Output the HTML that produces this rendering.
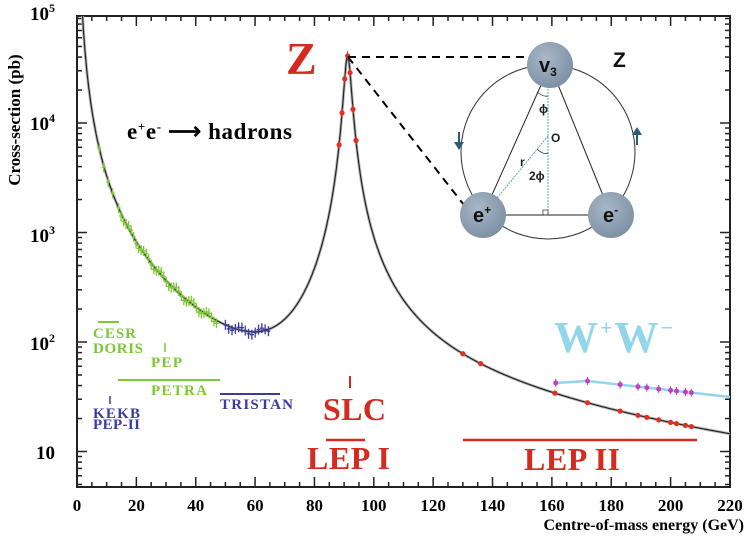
<!DOCTYPE html>
<html><head><meta charset="utf-8"><style>
body{margin:0;background:#fff}
svg{display:block}
.s{font-family:"Liberation Serif",serif;font-weight:bold}
</style></head><body>
<svg id="c" width="747" height="548" xmlns="http://www.w3.org/2000/svg">
<defs><radialGradient id="g" cx="40%" cy="35%" r="70%"><stop offset="0" stop-color="#a9b8c8"/><stop offset="1" stop-color="#7a8ea3"/></radialGradient>
<clipPath id="cp"><rect x="77" y="16" width="653" height="471"/></clipPath></defs>
<g id="ax"></g>
<g clip-path="url(#cp)" id="cv"></g>
<text x="20" y="120" class="s" font-size="17" text-anchor="middle" transform="rotate(-90 20 120)">Cross-section (pb)</text>
<text x="744" y="530" class="s" font-size="16" text-anchor="end">Centre-of-mass energy (GeV)</text>
<g class="s" font-size="19">
<text x="30" y="20">10<tspan dy="-8" font-size="12">5</tspan></text>
<text x="30" y="130">10<tspan dy="-8" font-size="12">4</tspan></text>
<text x="30" y="242">10<tspan dy="-8" font-size="12">3</tspan></text>
<text x="30" y="350">10<tspan dy="-8" font-size="12">2</tspan></text>
<text x="36" y="459">10</text>
</g>
<text x="286" y="74" class="s" font-size="46" fill="#d42a20">Z</text>
<text x="127" y="139" class="s" font-size="23" textLength="165">e<tspan dy="-8" font-size="13">+</tspan><tspan dy="8">e</tspan><tspan dy="-8" font-size="13">-</tspan><tspan dy="8"> ⟶ hadrons</tspan></text>
<g class="s" fill="#7cc832" font-size="15">
<line x1="98" y1="322" x2="119" y2="322" stroke="#7cc832" stroke-width="2"/>
<text x="93" y="338" textLength="43">CESR</text><text x="93" y="353" textLength="50">DORIS</text>
<line x1="165" y1="343" x2="165" y2="352" stroke="#7cc832" stroke-width="1.5"/>
<text x="151" y="367" textLength="31">PEP</text>
<line x1="118" y1="380" x2="220" y2="380" stroke="#7cc832" stroke-width="2"/>
<text x="151" y="395" textLength="56">PETRA</text></g>
<g class="s" fill="#3a3aa0" font-size="15">
<line x1="110" y1="396" x2="110" y2="404" stroke="#3a3aa0" stroke-width="1.5"/>
<text x="93" y="418" textLength="47">KEKB</text><text x="93" y="429" textLength="47">PEP-II</text>
<line x1="220" y1="394" x2="280" y2="394" stroke="#3a3aa0" stroke-width="2"/>
<text x="220" y="409" textLength="73">TRISTAN</text></g>
<g class="s" fill="#d42a20">
<line x1="350" y1="376" x2="350" y2="388" stroke="#d42a20" stroke-width="2"/>
<text x="323" y="420" font-size="32" textLength="63">SLC</text>
<line x1="326" y1="440" x2="365" y2="440" stroke="#d42a20" stroke-width="2.5"/>
<text x="307" y="469" font-size="32" textLength="83">LEP I</text>
<line x1="463" y1="440" x2="697" y2="440" stroke="#d42a20" stroke-width="2.5"/>
<text x="524" y="470" font-size="32" textLength="96">LEP II</text></g>
<text x="554" y="352" class="s" font-size="44" fill="#92d6ea" textLength="119">W<tspan dy="-17" font-size="22">+</tspan><tspan dy="17">W</tspan><tspan dy="-17" font-size="22">−</tspan></text>
<g id="diag">
<line x1="348" y1="57" x2="527" y2="57" stroke="#000" stroke-width="2" stroke-dasharray="8,6"/>
<line x1="348" y1="57" x2="464" y2="205" stroke="#000" stroke-width="2" stroke-dasharray="8,6"/>
<circle cx="548" cy="152" r="87" fill="none" stroke="#333" stroke-width="1"/>
<line x1="550" y1="65" x2="483" y2="215" stroke="#222"/>
<line x1="550" y1="65" x2="611" y2="215" stroke="#222"/>
<line x1="483" y1="215" x2="611" y2="215" stroke="#222"/>
<line x1="548" y1="65" x2="548" y2="215" stroke="#5aa" stroke-dasharray="2,1"/>
<line x1="548" y1="136" x2="483" y2="215" stroke="#5aa" stroke-dasharray="2,1"/>
<rect x="543" y="210" width="5" height="5" fill="none" stroke="#333" stroke-width=".7"/>
<path d="M537 92 Q543 97 548 96" fill="none" stroke="#333" stroke-width=".8"/>
<path d="M537 149 Q543 155 548 153" fill="none" stroke="#333" stroke-width=".8"/>
<g font-family="Liberation Sans,sans-serif" font-weight="bold" font-size="12" fill="#222">
<text x="539" y="113">ϕ</text><text x="551" y="142">O</text><text x="520" y="166">r</text><text x="529" y="180">2ϕ</text></g>
<path d="M458 132 l0 10 l-4 0 l5 8 l5 -8 l-4 0 l0 -10z" fill="#2c5a78"/>
<path d="M636 145 l0 -10 l-4 0 l5 -8 l5 8 l-4 0 l0 10z" fill="#2c5a78"/>
<circle cx="550" cy="65" r="23" fill="url(#g)"/><circle cx="483" cy="215" r="23" fill="url(#g)"/><circle cx="611" cy="215" r="23" fill="url(#g)"/>
<g font-family="Liberation Sans,sans-serif" font-weight="bold" fill="#111">
<text x="539" y="72" font-size="20">v<tspan dy="4" font-size="12">3</tspan></text>
<text x="473" y="222" font-size="20">e<tspan dy="-8" font-size="12">+</tspan></text>
<text x="603" y="222" font-size="20">e<tspan dy="-8" font-size="12">-</tspan></text>
<text x="613" y="67" font-size="21">Z</text></g>
</g>
</svg>
<script>
var NS="http://www.w3.org/2000/svg";
function X(e){return 77+e*2.968}
function Y(v){return 123-109.5*(Math.log10(v)-4)}
function sig(E){var s=E*E,M2=8317,G=2.5;var z=41000*s*G*G/((s-M2)*(s-M2)+s*s*G*G/M2);var ph=330000/s;
var intf=(E<91.2)?-0.15*Math.sqrt(z*ph)*Math.min(1,(91.2-E)/5):0;return Math.max(ph+z+intf,1)}
function el(t,a,p){var e=document.createElementNS(NS,t);for(var k in a)e.setAttribute(k,a[k]);(p||document.getElementById('cv')).appendChild(e);return e}
var d="";for(var E=1.2;E<=221;E+=(Math.abs(E-91.2)<6?0.05:0.25)){d+=(d?"L":"M")+X(E).toFixed(1)+" "+Y(sig(E)).toFixed(1)}
el('path',{d:d,fill:"none",stroke:"#bbb","stroke-width":3});
el('path',{d:d,fill:"none",stroke:"#222","stroke-width":1.2});
function wy(E){return E<172?383-2*(E-161)/11:381+16*(E-172)/48}
var w="";for(var E=161;E<=221;E+=1){w+=(w?"L":"M")+X(E)+" "+wy(E)}
el('path',{d:w,fill:"none",stroke:"#92d6ea","stroke-width":2.5});
[161.3,172,183,189,192,196,200,202,205,207].forEach(function(E){var y=wy(E);el('circle',{cx:X(E),cy:y,r:2.5,fill:"#c040c0"});el('line',{x1:X(E),x2:X(E),y1:y-4,y2:y+4,stroke:"#c040c0"})});
function pts(a,b,n,c,jit){for(var i=0;i<n;i++){var E=a+(b-a)*i/(n-1);var y=Y(sig(E))+(Math.sin(i*7.3)*jit);el('line',{x1:X(E),x2:X(E),y1:y-5,y2:y+5,stroke:c,"stroke-width":1.3});el('line',{x1:X(E)-2,x2:X(E)+2,y1:y,y2:y,stroke:c,"stroke-width":1.3})}}
pts(7.5,12,4,"#7cc832",2);pts(14,47,40,"#7cc832",3);pts(50,64.5,14,"#3a3aa0",3);
[88.3,89.3,90.2,91.2,92,93,94].forEach(function(E){var y=Y(sig(E));el('circle',{cx:X(E),cy:y,r:2.6,fill:"#e03020"});el('line',{x1:X(E),x2:X(E),y1:y-5,y2:y+5,stroke:"#e03020"})});
[130,136,161,172,183,189,192,196,200,202,205,207].forEach(function(E){var y=Y(sig(E));el('circle',{cx:X(E),cy:y,r:2.6,fill:"#e03020"})});
var ax=document.getElementById('ax');
el('rect',{x:77,y:16,width:653,height:471,fill:"none",stroke:"#222","stroke-width":2},ax);
for(var e=0;e<=220;e+=5){var L=e%20==0?10:5;el('line',{x1:X(e),x2:X(e),y1:487,y2:487-L,stroke:"#222","stroke-width":1.5},ax);el('line',{x1:X(e),x2:X(e),y1:16,y2:16+L,stroke:"#222","stroke-width":1.5},ax);
if(e%20==0){var t=el('text',{x:X(e),y:511,"text-anchor":"middle","font-size":17,"font-family":"Liberation Serif,serif","font-weight":"bold"},ax);t.textContent=e;}}
for(var p=0;p<5;p++)for(var m=1;m<10;m++){var v=Math.pow(10,p)*m;var y=Y(v);if(y<16||y>487)continue;var L=m==1?10:5;el('line',{x1:77,x2:77+L,y1:y,y2:y,stroke:"#222","stroke-width":1.5},ax);el('line',{x1:730,x2:730-L,y1:y,y2:y,stroke:"#222","stroke-width":1.5},ax)}
</script>
</body></html>
